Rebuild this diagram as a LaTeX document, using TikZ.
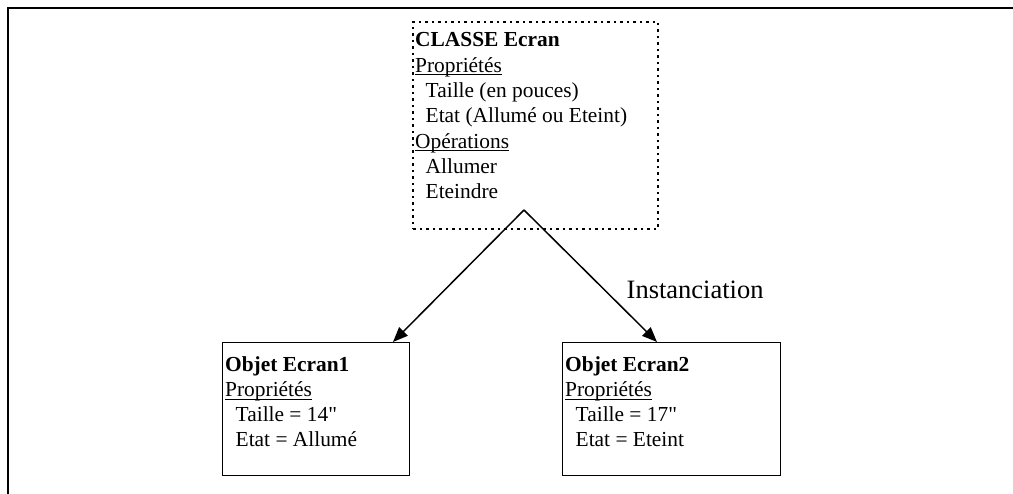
\documentclass[tikz,border=0pt]{standalone}
\usepackage{fontspec}
\setmainfont{Liberation Serif}
\newfontfamily\plainserif{Liberation Serif}
\usetikzlibrary{arrows.meta}
\newcommand{\myul}[1]{\setbox0\hbox{#1}\rlap{\rule[-2.8pt]{\wd0}{1.1pt}}\box0}
\newcommand{\sq}{{\plainserif"}}
\begin{document}
\begin{tikzpicture}[x=1pt,y=-1pt,
  frameline/.style={line width=2.5pt},
  objbox/.style={draw, line width=1.3pt, anchor=north west, inner sep=0pt},
  classbox/.style={draw, line width=2pt, dash pattern=on 2.5pt off 4pt, anchor=north west, inner sep=0pt},
  txt/.style={anchor=base west, inner sep=0pt, font=\fontsize{21.4}{25}\selectfont},
  bigtxt/.style={anchor=base west, inner sep=0pt, font=\fontsize{26.5}{30}\selectfont},
  arr/.style={line width=1.5pt, -{Triangle[length=15pt,width=12pt]}}
]
\useasboundingbox (0,0) rectangle (1013,494);
% frame
\coordinate (fa) at (8,494);
\coordinate (fb) at (8,8);
\coordinate (fc) at (1013,8);
\draw[frameline] (fa) -- (fb) -- (fc);
% class box
\node[classbox, minimum width=245pt, minimum height=207pt] (cls) at (412,21) {};
\node[txt] (c1) at (415,47) {\textbf{CLASSE Ecran}};
\node[txt] (c2) at (415,72.3) {\myul{Propriétés}};
\node[txt] (c3) at (425.5,97.6) {Taille (en pouces)};
\node[txt] (c4) at (425.5,122.9) {Etat (Allumé ou Eteint)};
\node[txt] (c5) at (415,148.2) {\myul{Opérations}};
\node[txt] (c6) at (425.5,173.5) {Allumer};
\node[txt] (c7) at (425.5,198.8) {Eteindre};
% object boxes
\node[objbox, minimum width=187pt, minimum height=133pt] (o1) at (222,342) {};
\node[txt] (a1) at (225,372) {\textbf{Objet Ecran1}};
\node[txt] (a2) at (225,397) {\myul{Propriétés}};
\node[txt] (a3) at (235.5,422) {Taille = 14\sq};
\node[txt] (a4) at (235.5,447) {Etat = Allumé};
\node[objbox, minimum width=218pt, minimum height=133pt] (o2) at (562,342) {};
\node[txt] (b1) at (565,372) {\textbf{Objet Ecran2}};
\node[txt] (b2) at (565,397) {\myul{Propriétés}};
\node[txt] (b3) at (575.5,422) {Taille = 17\sq};
\node[txt] (b4) at (575.5,447) {Etat = Eteint};
% arrows
\coordinate (apex) at (524,210);
\coordinate (t1) at (393,342);
\coordinate (t2) at (657,342);
\draw[arr] (apex) -- (t1);
\draw[arr] (apex) -- (t2);
\node[bigtxt] (inst) at (626.5,298.5) {Instanciation};
\end{tikzpicture}
\end{document}
